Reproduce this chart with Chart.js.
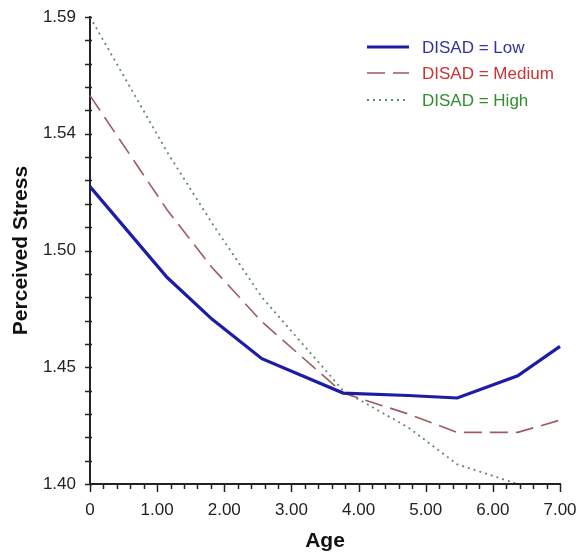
<!DOCTYPE html>
<html>
<head>
<meta charset="utf-8">
<script src="https://cdn.jsdelivr.net/npm/chart.js@4.4.1/dist/chart.umd.min.js"></script>
<style>
  html, body { margin: 0; padding: 0; background: #ffffff; }
  #wrap { width: 579px; height: 558px; }
</style>
</head>
<body>
<div id="wrap"><canvas id="c" width="579" height="558"></canvas></div>
<script>
// ---- Data ----
const ages = [0, 1.15, 1.82, 2.56, 3.77, 4.74, 5.47, 6.37, 7.0];
const lowValues = [1.521, 1.484, 1.467, 1.451, 1.437, 1.436, 1.435, 1.444, 1.456];
const mediumValues = [1.558, 1.5115, 1.488, 1.466, 1.437, 1.4285, 1.421, 1.421, 1.426];
const highValues = [1.590, 1.535, 1.506, 1.476, 1.438, 1.423, 1.408, 1.400, 1.395];
const seriesLabels = ['DISAD = Low', 'DISAD = Medium', 'DISAD = High'];

const xTickValues = [0, 1, 2, 3, 4, 5, 6, 7];
const xTickLabels = ['0', '1.00', '2.00', '3.00', '4.00', '5.00', '6.00', '7.00'];
const yTickValues = [1.40, 1.4475, 1.495, 1.5425, 1.59];
const yTickLabels = ['1.40', '1.45', '1.50', '1.54', '1.59'];
const xMinorStep = 0.2;
const yMinorStep = 0.0095;

const toPoints = (vals) => ages.map((a, i) => ({ x: a, y: vals[i] }));

const legendColors = ['#33339f', '#cc3333', '#2f8f2f'];

const axisTicks = {
  id: 'axisTicks',
  afterDraw(chart) {
    const { ctx, chartArea: a, scales: { x, y } } = chart;
    ctx.save();
    ctx.strokeStyle = '#222222';
    ctx.lineWidth = 1.5;
    ctx.beginPath();
    const nx = Math.round((x.max - x.min) / xMinorStep);
    for (let i = 0; i <= nx; i++) {
      const v = x.min + i * xMinorStep;
      const px = Math.round(x.getPixelForValue(v)) + 0.5;
      const major = i % 5 === 0;
      ctx.moveTo(px, a.bottom);
      ctx.lineTo(px, a.bottom + (major ? 8 : 5));
    }
    const ny = Math.round((y.max - y.min) / yMinorStep);
    for (let i = 0; i <= ny; i++) {
      const v = y.min + i * yMinorStep;
      const py = Math.round(y.getPixelForValue(v)) + 0.5;
      ctx.moveTo(a.left - 5, py);
      ctx.lineTo(a.left + 2, py);
    }
    ctx.stroke();
    ctx.restore();
  }
};

const customLegend = {
  id: 'customLegend',
  afterDraw(chart) {
    const { ctx } = chart;
    ctx.save();
    const x0 = 367, x1 = 409, tx = 422;
    const rows = [47, 73, 100];
    chart.data.datasets.forEach((ds, i) => {
      const yy = rows[i];
      ctx.beginPath();
      ctx.strokeStyle = ds.borderColor;
      ctx.lineWidth = ds.borderWidth;
      ctx.setLineDash(ds.borderDash || []);
      ctx.moveTo(x0, yy);
      ctx.lineTo(x1, yy);
      ctx.stroke();
      ctx.setLineDash([]);
      ctx.fillStyle = legendColors[i];
      ctx.font = '17px "Liberation Sans", Arial, sans-serif';
      ctx.textBaseline = 'middle';
      ctx.textAlign = 'left';
      ctx.fillText(ds.label, tx, yy + 1);
    });
    ctx.restore();
  }
};

const clipBox = { left: 3, top: 3, right: 3, bottom: -1 };

new Chart(document.getElementById('c'), {
  type: 'line',
  data: {
    datasets: [
      { label: seriesLabels[0], data: toPoints(lowValues), borderColor: '#1c1ca6', borderWidth: 3.2, pointRadius: 0, tension: 0, fill: false, clip: clipBox },
      { label: seriesLabels[1], data: toPoints(mediumValues), borderColor: '#a05a60', borderWidth: 1.6, borderDash: [18, 8], pointRadius: 0, tension: 0, fill: false, clip: clipBox },
      { label: seriesLabels[2], data: toPoints(highValues), borderColor: '#5f8a6c', borderWidth: 1.8, borderDash: [2, 4], pointRadius: 0, tension: 0, fill: false, clip: clipBox }
    ]
  },
  options: {
    responsive: false,
    animation: false,
    devicePixelRatio: 1,
    layout: { padding: { left: 0, top: 17, right: 19, bottom: 0 } },
    plugins: { legend: { display: false }, tooltip: { enabled: false } },
    scales: {
      x: {
        type: 'linear',
        min: 0, max: 7,
        afterBuildTicks: (s) => { s.ticks = xTickValues.map(v => ({ value: v })); },
        afterFit: (s) => { s.height = 74; s.paddingLeft = 0; s.paddingRight = 0; },
        grid: { display: true, drawOnChartArea: false, drawTicks: false },
        border: { display: true, color: '#222222', width: 2 },
        ticks: {
          padding: 16,
          color: '#222222',
          font: { family: '"Liberation Sans", Arial, sans-serif', size: 17 },
          maxRotation: 0,
          autoSkip: false,
          callback: (v) => { const i = xTickValues.indexOf(v); return i >= 0 ? xTickLabels[i] : ''; }
        },
        title: {
          display: true, text: 'Age', color: '#111111',
          font: { family: '"Liberation Sans", Arial, sans-serif', size: 21, weight: 'bold' },
          padding: { top: 0, bottom: 4 }
        }
      },
      y: {
        type: 'linear',
        min: 1.40, max: 1.59,
        afterBuildTicks: (s) => { s.ticks = yTickValues.map(v => ({ value: v })); },
        afterFit: (s) => { s.width = 90; s.paddingTop = 0; s.paddingBottom = 0; },
        grid: { display: true, drawOnChartArea: false, drawTicks: false },
        border: { display: true, color: '#222222', width: 2 },
        ticks: {
          padding: 14,
          color: '#222222',
          font: { family: '"Liberation Sans", Arial, sans-serif', size: 17 },
          autoSkip: false,
          callback: (v) => { const i = yTickValues.findIndex(t => Math.abs(t - v) < 1e-9); return i >= 0 ? yTickLabels[i] : ''; }
        },
        title: {
          display: true, text: 'Perceived Stress', color: '#111111',
          font: { family: '"Liberation Sans", Arial, sans-serif', size: 21, weight: 'bold' },
          padding: { top: 9, bottom: 0 }
        }
      }
    }
  },
  plugins: [axisTicks, customLegend]
});
</script>
</body>
</html>
